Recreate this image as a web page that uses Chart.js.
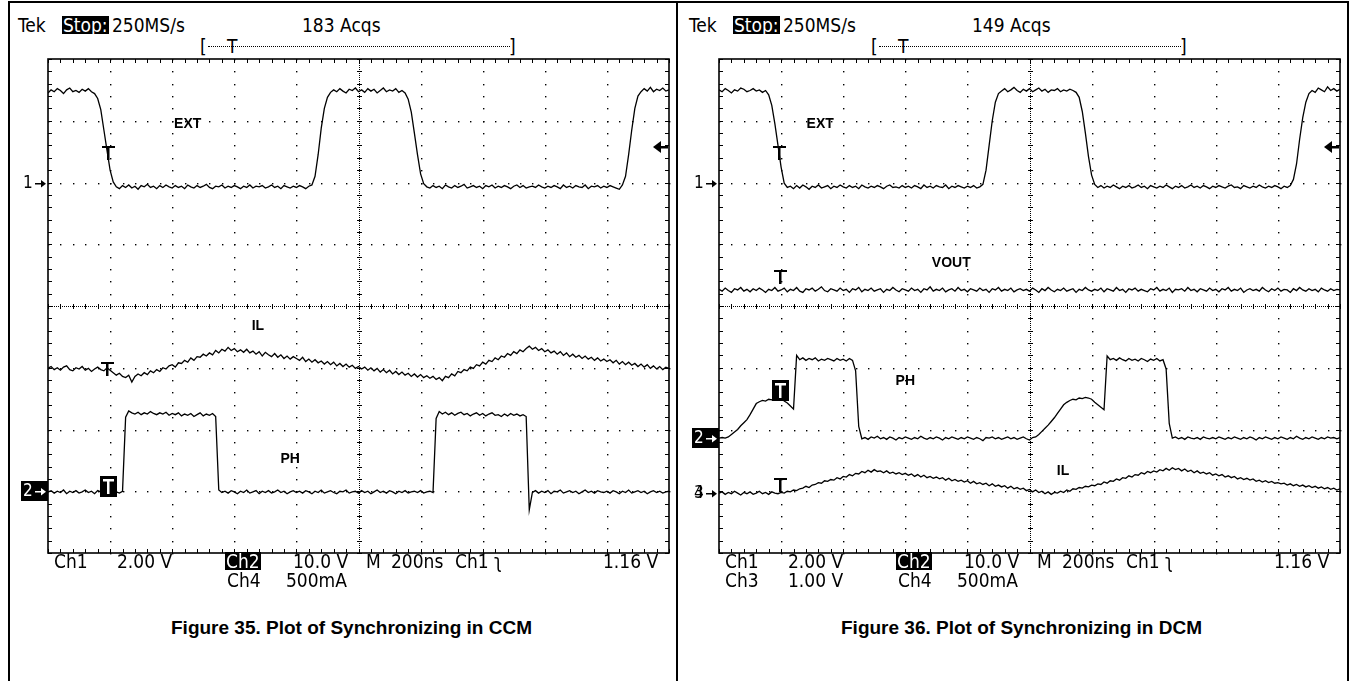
<!DOCTYPE html>
<html>
<head>
<meta charset="utf-8">
<script src="https://cdn.jsdelivr.net/npm/chart.js@4.4.0/dist/chart.umd.min.js"></script>
<style>
  html, body { margin: 0; padding: 0; background: #fff; }
  body { width: 1351px; height: 681px; position: relative; overflow: hidden; }
  .rule { position: absolute; background: #000; }
  .t { position: absolute; font-family: "DejaVu Sans Condensed", "DejaVu Sans", sans-serif; font-size: 19px; line-height: 20px; white-space: pre; color: #000; }
  .inv { background: #000; color: #fff; line-height: 18px; height: 18px; padding: 0 1px; }
  .rec { position: absolute; border-top: 1px dotted #000; height: 0; }
  .cap { position: absolute; font-family: "Liberation Sans", Arial, sans-serif; font-weight: bold; font-size: 19px; line-height: 22px; white-space: nowrap; }
  canvas { position: absolute; }
</style>
</head>
<body>
<!-- page frame -->
<div class="rule" style="left:8px;top:1px;width:1341px;height:2px"></div>
<div class="rule" style="left:8px;top:1px;width:2px;height:680px"></div>
<div class="rule" style="left:676px;top:1px;width:2px;height:680px"></div>
<div class="rule" style="left:1347px;top:1px;width:2px;height:680px"></div>

<!-- Figure 35 -->
<div class="t" style="left:18px;top:15px">Tek</div>
<div class="t inv" style="left:62px;top:16px">Stop:</div>
<div class="t" style="left:112px;top:15px">250MS/s</div>
<div class="t" style="left:302px;top:15px">183 Acqs</div>
<div class="t" style="left:200px;top:36px">[</div>
<div class="rec" style="left:208px;top:46px;width:302px"></div>
<div class="t" style="left:227px;top:36px">T</div>
<div class="t" style="left:509px;top:36px">]</div>
<canvas id="ccm" width="668" height="512" style="left:8px;top:48px"></canvas>
<div class="t" style="left:54px;top:551px">Ch1</div>
<div class="t" style="left:117px;top:551px">2.00 V</div>
<div class="t inv" style="left:225px;top:552px">Ch2</div>
<div class="t" style="left:293px;top:551px">10.0 V</div>
<div class="t" style="left:366px;top:551px">M</div>
<div class="t" style="left:391px;top:551px">200ns</div>
<div class="t" style="left:455px;top:551px">Ch1</div>
<div class="t" style="left:494px;top:551px">ʅ</div>
<div class="t" style="left:603px;top:551px">1.16 V</div>
<div class="t" style="left:227px;top:570px">Ch4</div>
<div class="t" style="left:286px;top:570px">500mA</div>
<div class="cap" style="left:171px;top:617px">Figure 35. Plot of Synchronizing in CCM</div>

<!-- Figure 36 -->
<div class="t" style="left:689px;top:15px">Tek</div>
<div class="t inv" style="left:733px;top:16px">Stop:</div>
<div class="t" style="left:783px;top:15px">250MS/s</div>
<div class="t" style="left:972px;top:15px">149 Acqs</div>
<div class="t" style="left:871px;top:36px">[</div>
<div class="rec" style="left:879px;top:46px;width:302px"></div>
<div class="t" style="left:898px;top:36px">T</div>
<div class="t" style="left:1180px;top:36px">]</div>
<canvas id="dcm" width="668" height="512" style="left:679px;top:48px"></canvas>
<div class="t" style="left:725px;top:551px">Ch1</div>
<div class="t" style="left:788px;top:551px">2.00 V</div>
<div class="t inv" style="left:896px;top:552px">Ch2</div>
<div class="t" style="left:964px;top:551px">10.0 V</div>
<div class="t" style="left:1037px;top:551px">M</div>
<div class="t" style="left:1062px;top:551px">200ns</div>
<div class="t" style="left:1126px;top:551px">Ch1</div>
<div class="t" style="left:1165px;top:551px">ʅ</div>
<div class="t" style="left:1274px;top:551px">1.16 V</div>
<div class="t" style="left:725px;top:570px">Ch3</div>
<div class="t" style="left:788px;top:570px">1.00 V</div>
<div class="t" style="left:898px;top:570px">Ch4</div>
<div class="t" style="left:957px;top:570px">500mA</div>
<div class="cap" style="left:841px;top:617px">Figure 36. Plot of Synchronizing in DCM</div>

<script>
// screen is 10 x 8 divisions, 200 ns/div, one sample every 0.05 div (10 ns)
// all trace values below are in graticule divisions (0 = bottom line)
const sampleTimes = Array.from({ length: 201 }, (_, i) => +(i * 0.05).toFixed(2));

// Figure 35 - CCM
const extCcm = [
  7.45, 7.50, 7.47, 7.52, 7.49, 7.44, 7.50, 7.53, 7.47, 7.49, 7.46, 7.51, 7.48, 7.52, 7.47, 7.44, 7.36, 7.18, 6.85, 6.52,
  6.20, 6.01, 5.93, 5.90, 5.95, 5.92, 5.96, 5.91, 5.94, 5.89, 5.95, 5.93, 5.97, 5.92, 5.94, 5.90, 5.95, 5.92, 5.96, 5.93,
  5.91, 5.95, 5.92, 5.94, 5.90, 5.96, 5.93, 5.91, 5.95, 5.92, 5.94, 5.97, 5.92, 5.90, 5.94, 5.93, 5.96, 5.91, 5.94, 5.92,
  5.95, 5.93, 5.90, 5.94, 5.92, 5.96, 5.91, 5.94, 5.93, 5.95, 5.91, 5.93, 5.96, 5.92, 5.94, 5.90, 5.95, 5.93, 5.91, 5.94,
  5.92, 5.95, 5.93, 5.90, 5.94, 5.96, 6.10, 6.45, 6.88, 7.20, 7.38, 7.46, 7.50, 7.47, 7.52, 7.48, 7.45, 7.51, 7.49, 7.53,
  7.47, 7.50, 7.46, 7.52, 7.48, 7.51, 7.45, 7.49, 7.53, 7.47, 7.50, 7.48, 7.52, 7.46, 7.49, 7.45, 7.35, 7.14, 6.80, 6.45,
  6.14, 5.98, 5.93, 5.91, 5.95, 5.92, 5.94, 5.90, 5.96, 5.93, 5.91, 5.95, 5.92, 5.94, 5.97, 5.91, 5.93, 5.95, 5.92, 5.94,
  5.90, 5.95, 5.93, 5.96, 5.91, 5.94, 5.92, 5.95, 5.93, 5.90, 5.94, 5.96, 5.92, 5.95, 5.91, 5.93, 5.94, 5.92, 5.96, 5.93,
  5.91, 5.94, 5.92, 5.95, 5.93, 5.90, 5.96, 5.92, 5.94, 5.91, 5.95, 5.93, 5.92, 5.96, 5.90, 5.94, 5.93, 5.95, 5.91, 5.94,
  5.92, 5.95, 5.93, 5.91, 5.89, 5.96, 6.10, 6.45, 6.85, 7.20, 7.40, 7.47, 7.52, 7.48, 7.54, 7.47, 7.51, 7.49, 7.53, 7.48,
  7.50
];
const ilCcm = [
  2.99, 3.02, 2.97, 3.00, 2.96, 3.01, 3.03, 2.97, 2.95, 3.00, 2.98, 3.02, 2.96, 2.99, 2.94, 2.98, 3.01, 2.97, 2.95, 3.00,
  2.96, 2.92, 2.88, 2.91, 2.86, 2.84, 2.88, 2.77, 2.86, 2.90, 2.87, 2.92, 2.89, 2.95, 2.92, 2.97, 2.94, 3.00, 2.98, 3.03,
  3.05, 3.01, 3.08, 3.07, 3.12, 3.09, 3.16, 3.12, 3.18, 3.17, 3.22, 3.19, 3.24, 3.21, 3.28, 3.24, 3.30, 3.27, 3.33, 3.28,
  3.31, 3.26, 3.29, 3.25, 3.30, 3.24, 3.27, 3.22, 3.26, 3.19, 3.25, 3.21, 3.18, 3.23, 3.17, 3.21, 3.15, 3.19, 3.14, 3.18,
  3.15, 3.12, 3.17, 3.10, 3.14, 3.09, 3.13, 3.08, 3.11, 3.06, 3.10, 3.05, 3.09, 3.03, 3.07, 3.02, 3.06, 3.01, 3.04, 2.99,
  3.02, 2.98, 3.01, 2.96, 3.00, 2.95, 2.99, 2.93, 2.97, 2.92, 2.96, 2.90, 2.94, 2.89, 2.93, 2.88, 2.91, 2.86, 2.90, 2.85,
  2.89, 2.84, 2.87, 2.83, 2.86, 2.81, 2.84, 2.79, 2.86, 2.84, 2.90, 2.87, 2.94, 2.92, 2.97, 2.95, 3.01, 2.99, 3.05, 3.03,
  3.09, 3.06, 3.12, 3.10, 3.16, 3.13, 3.19, 3.17, 3.23, 3.20, 3.26, 3.23, 3.29, 3.26, 3.31, 3.35, 3.30, 3.33, 3.28, 3.31,
  3.26, 3.29, 3.24, 3.27, 3.22, 3.26, 3.20, 3.24, 3.18, 3.22, 3.17, 3.20, 3.15, 3.19, 3.14, 3.17, 3.12, 3.16, 3.11, 3.14,
  3.10, 3.13, 3.08, 3.12, 3.06, 3.10, 3.05, 3.09, 3.04, 3.07, 3.02, 3.06, 3.01, 3.05, 2.99, 3.03, 2.98, 3.02, 2.97, 3.01,
  2.99
];
const phCcm = [
  0.99, 1.01, 0.97, 1.00, 0.98, 1.02, 0.96, 1.00, 0.98, 1.01, 0.97, 0.99, 1.02, 0.98, 1.00, 0.96, 1.01, 0.99, 0.97, 1.00,
  0.98, 1.01, 0.99, 0.97, 1.00, 2.20, 2.30, 2.27, 2.25, 2.28, 2.24, 2.27, 2.25, 2.29, 2.26, 2.24, 2.27, 2.25, 2.28, 2.23,
  2.26, 2.24, 2.27, 2.22, 2.25, 2.23, 2.26, 2.21, 2.24, 2.27, 2.22, 2.25, 2.23, 2.26, 2.21, 1.02, 0.98, 1.00, 0.97, 1.01,
  0.99, 0.96, 1.00, 0.98, 1.02, 0.97, 0.99, 1.01, 0.96, 1.00, 0.98, 1.01, 0.97, 0.99, 1.02, 0.98, 1.00, 0.96, 0.99, 1.01,
  0.98, 1.00, 0.97, 1.01, 0.99, 0.96, 1.00, 0.98, 1.02, 0.97, 0.99, 1.01, 0.98, 0.96, 1.00, 0.99, 1.02, 0.97, 0.99, 1.00,
  0.97, 1.01, 0.98, 1.00, 0.96, 0.99, 1.02, 0.98, 1.00, 0.97, 1.01, 0.99, 0.96, 1.00, 0.98, 1.01, 0.97, 0.99, 1.00, 0.98,
  1.01, 0.97, 0.99, 1.00, 0.98, 2.18, 2.29, 2.25, 2.28, 2.24, 2.27, 2.23, 2.26, 2.28, 2.24, 2.26, 2.22, 2.25, 2.27, 2.23,
  2.26, 2.22, 2.25, 2.27, 2.23, 2.24, 2.21, 2.25, 2.22, 2.26, 2.23, 2.25, 2.22, 2.24, 2.21, 0.70, 0.98, 1.01, 0.97, 1.00,
  0.98, 1.01, 0.96, 1.00, 0.99, 1.02, 0.97, 0.99, 1.01, 0.98, 1.00, 0.96, 0.99, 1.02, 0.98, 1.00, 0.97, 1.01, 0.99, 0.98,
  1.00, 0.97, 1.01, 0.99, 0.96, 1.00, 0.98, 1.02, 0.97, 0.99, 1.01, 0.98, 1.00, 0.96, 0.99, 1.01, 0.98, 1.00, 0.97, 0.99,
  1.00
];

// Figure 36 - DCM
const extDcm = [
  7.50, 7.47, 7.52, 7.49, 7.45, 7.50, 7.48, 7.53, 7.51, 7.47, 7.49, 7.52, 7.48, 7.50, 7.46, 7.49, 7.42, 7.25, 6.95, 6.60,
  6.25, 5.99, 5.92, 5.94, 5.90, 5.95, 5.91, 5.96, 5.93, 5.89, 5.94, 5.92, 5.96, 5.91, 5.93, 5.95, 5.90, 5.94, 5.92, 5.96,
  5.93, 5.91, 5.95, 5.92, 5.94, 5.90, 5.96, 5.93, 5.91, 5.94, 5.92, 5.95, 5.93, 5.90, 5.94, 5.96, 5.92, 5.93, 5.91, 5.95,
  5.92, 5.94, 5.91, 5.95, 5.93, 5.90, 5.96, 5.92, 5.94, 5.91, 5.95, 5.93, 5.92, 5.96, 5.90, 5.94, 5.92, 5.95, 5.93, 5.91,
  5.94, 5.92, 5.95, 5.91, 5.93, 5.97, 6.20, 6.60, 7.00, 7.30, 7.44, 7.48, 7.52, 7.47, 7.50, 7.54, 7.49, 7.46, 7.51, 7.48,
  7.52, 7.47, 7.50, 7.53, 7.48, 7.51, 7.46, 7.50, 7.49, 7.52, 7.47, 7.50, 7.48, 7.51, 7.49, 7.46, 7.38, 7.15, 6.80, 6.42,
  6.12, 5.97, 5.92, 5.95, 5.91, 5.94, 5.92, 5.96, 5.93, 5.90, 5.94, 5.92, 5.95, 5.91, 5.93, 5.96, 5.92, 5.94, 5.90, 5.95,
  5.93, 5.91, 5.94, 5.92, 5.96, 5.93, 5.90, 5.94, 5.92, 5.95, 5.91, 5.93, 5.96, 5.92, 5.94, 5.91, 5.95, 5.93, 5.90, 5.94,
  5.92, 5.95, 5.93, 5.91, 5.94, 5.96, 5.92, 5.93, 5.90, 5.95, 5.93, 5.91, 5.94, 5.92, 5.96, 5.93, 5.91, 5.94, 5.92, 5.95,
  5.93, 5.90, 5.94, 5.92, 5.95, 6.05, 6.30, 6.70, 7.05, 7.30, 7.44, 7.49, 7.46, 7.53, 7.50, 7.47, 7.55, 7.49, 7.52, 7.48,
  7.51
];
const voutDcm = [
  4.27, 4.24, 4.29, 4.25, 4.22, 4.28, 4.26, 4.30, 4.24, 4.27, 4.23, 4.28, 4.25, 4.29, 4.26, 4.22, 4.27, 4.25, 4.30, 4.24,
  4.26, 4.29, 4.23, 4.27, 4.25, 4.30, 4.24, 4.22, 4.28, 4.26, 4.29, 4.24, 4.27, 4.31, 4.25, 4.23, 4.28, 4.26, 4.24, 4.29,
  4.25, 4.27, 4.22, 4.28, 4.26, 4.30, 4.23, 4.27, 4.25, 4.29, 4.24, 4.26, 4.28, 4.22, 4.27, 4.25, 4.30, 4.26, 4.23, 4.28,
  4.26, 4.24, 4.29, 4.25, 4.27, 4.22, 4.28, 4.26, 4.31, 4.24, 4.27, 4.25, 4.29, 4.23, 4.26, 4.28, 4.24, 4.30, 4.25, 4.27,
  4.23, 4.28, 4.26, 4.24, 4.29, 4.25, 4.27, 4.22, 4.28, 4.26, 4.30, 4.24, 4.27, 4.25, 4.29, 4.23, 4.26, 4.28, 4.25, 4.27,
  4.24, 4.29, 4.26, 4.22, 4.28, 4.25, 4.30, 4.26, 4.23, 4.27, 4.25, 4.29, 4.24, 4.26, 4.28, 4.22, 4.27, 4.25, 4.30, 4.26,
  4.24, 4.27, 4.25, 4.29, 4.23, 4.28, 4.26, 4.24, 4.30, 4.25, 4.27, 4.22, 4.28, 4.26, 4.29, 4.24, 4.27, 4.25, 4.23, 4.28,
  4.26, 4.30, 4.24, 4.27, 4.25, 4.29, 4.22, 4.27, 4.26, 4.28, 4.24, 4.30, 4.25, 4.27, 4.23, 4.28, 4.26, 4.24, 4.29, 4.25,
  4.27, 4.23, 4.28, 4.26, 4.30, 4.24, 4.27, 4.25, 4.29, 4.22, 4.26, 4.28, 4.25, 4.27, 4.24, 4.30, 4.26, 4.23, 4.28, 4.25,
  4.29, 4.24, 4.27, 4.26, 4.22, 4.28, 4.25, 4.30, 4.26, 4.24, 4.28, 4.25, 4.27, 4.23, 4.29, 4.26, 4.24, 4.28, 4.25, 4.27,
  4.26
];
const phDcm = [
  1.86, 1.87, 1.86, 1.88, 1.92, 1.96, 2.00, 2.06, 2.11, 2.16, 2.24, 2.33, 2.42, 2.45, 2.47, 2.46, 2.49, 2.48, 2.51, 2.50,
  2.52, 2.46, 2.43, 2.38, 2.33, 3.20, 3.13, 3.16, 3.12, 3.15, 3.13, 3.16, 3.11, 3.14, 3.12, 3.15, 3.13, 3.11, 3.15, 3.12,
  3.14, 3.11, 3.15, 3.12, 2.95, 2.05, 1.85, 1.87, 1.84, 1.88, 1.86, 1.89, 1.85, 1.87, 1.84, 1.88, 1.86, 1.83, 1.87, 1.85,
  1.88, 1.86, 1.84, 1.87, 1.85, 1.89, 1.86, 1.84, 1.87, 1.85, 1.88, 1.86, 1.83, 1.87, 1.85, 1.88, 1.86, 1.84, 1.87, 1.85,
  1.88, 1.86, 1.84, 1.87, 1.85, 1.82, 1.87, 1.86, 1.88, 1.85, 1.87, 1.84, 1.86, 1.88, 1.85, 1.87, 1.84, 1.86, 1.88, 1.85,
  1.83, 1.87, 1.88, 1.92, 1.97, 2.02, 2.07, 2.13, 2.19, 2.26, 2.33, 2.40, 2.44, 2.47, 2.49, 2.48, 2.51, 2.50, 2.52, 2.51,
  2.49, 2.44, 2.40, 2.36, 2.32, 3.19, 3.13, 3.15, 3.12, 3.16, 3.13, 3.11, 3.15, 3.12, 3.14, 3.11, 3.15, 3.13, 3.10, 3.14,
  3.12, 3.15, 3.11, 3.13, 2.98, 2.10, 1.86, 1.88, 1.85, 1.87, 1.84, 1.88, 1.86, 1.85, 1.87, 1.84, 1.88, 1.86, 1.85, 1.87,
  1.85, 1.88, 1.86, 1.84, 1.87, 1.85, 1.88, 1.86, 1.84, 1.87, 1.85, 1.88, 1.86, 1.83, 1.87, 1.85, 1.88, 1.86, 1.84, 1.87,
  1.85, 1.88, 1.86, 1.84, 1.87, 1.85, 1.89, 1.86, 1.84, 1.87, 1.85, 1.88, 1.86, 1.84, 1.87, 1.85, 1.88, 1.86, 1.87, 1.85,
  1.87
];
const ilDcm = [
  0.97, 0.99, 0.95, 0.98, 0.96, 1.00, 0.97, 0.94, 0.98, 0.96, 0.99, 0.95, 0.97, 1.00, 0.96, 0.98, 0.95, 0.99, 0.97, 0.96,
  0.98, 0.97, 1.00, 0.99, 1.02, 1.01, 1.04, 1.05, 1.08, 1.06, 1.10, 1.11, 1.14, 1.13, 1.17, 1.16, 1.19, 1.18, 1.22, 1.20,
  1.24, 1.23, 1.27, 1.25, 1.29, 1.28, 1.32, 1.30, 1.34, 1.31, 1.35, 1.32, 1.33, 1.30, 1.33, 1.29, 1.31, 1.28, 1.30, 1.27,
  1.29, 1.26, 1.28, 1.24, 1.27, 1.23, 1.26, 1.22, 1.24, 1.21, 1.23, 1.20, 1.22, 1.18, 1.21, 1.17, 1.19, 1.16, 1.18, 1.15,
  1.17, 1.13, 1.16, 1.12, 1.14, 1.11, 1.13, 1.09, 1.12, 1.08, 1.10, 1.07, 1.09, 1.05, 1.08, 1.04, 1.06, 1.03, 1.05, 1.01,
  1.03, 0.99, 1.02, 0.98, 1.00, 0.96, 0.99, 0.95, 0.98, 0.97, 1.00, 0.98, 1.02, 1.00, 1.04, 1.03, 1.06, 1.05, 1.08, 1.07,
  1.10, 1.09, 1.12, 1.11, 1.15, 1.13, 1.17, 1.16, 1.20, 1.18, 1.22, 1.21, 1.25, 1.23, 1.27, 1.26, 1.30, 1.28, 1.32, 1.30,
  1.33, 1.31, 1.35, 1.33, 1.37, 1.34, 1.38, 1.35, 1.37, 1.33, 1.36, 1.32, 1.34, 1.30, 1.33, 1.29, 1.31, 1.28, 1.30, 1.26,
  1.28, 1.25, 1.27, 1.23, 1.25, 1.22, 1.24, 1.20, 1.22, 1.19, 1.21, 1.18, 1.20, 1.16, 1.18, 1.15, 1.17, 1.14, 1.16, 1.13,
  1.14, 1.12, 1.13, 1.10, 1.12, 1.09, 1.11, 1.08, 1.10, 1.07, 1.09, 1.06, 1.08, 1.05, 1.07, 1.04, 1.06, 1.03, 1.05, 1.02,
  1.04
];

// on-screen annotations, in divisions
const ccmNames = [{ text: 'EXT', t: 2.25, lvl: 6.96 }, { text: 'IL', t: 3.38, lvl: 3.69 }, { text: 'PH', t: 3.9, lvl: 1.54 }];
const dcmNames = [{ text: 'EXT', t: 1.63, lvl: 6.96 }, { text: 'VOUT', t: 3.74, lvl: 4.71 }, { text: 'PH', t: 3.0, lvl: 2.8 }, { text: 'IL', t: 5.54, lvl: 1.34 }];
const ccmGrounds = [{ text: '1', lvl: 6 }, { text: '2', lvl: 1, inv: true }];
const dcmGrounds = [{ text: '1', lvl: 6 }, { text: '2', lvl: 1.86, inv: true }, { text: '4', over: '3', lvl: 0.97 }];
const trigLevel = 6.58;
const ccmTrig = [{ t: 0.97, lvl: 6.59 }, { t: 0.95, lvl: 3.09 }, { t: 0.97, lvl: 1.25, inv: true }];
const dcmTrig = [{ t: 0.97, lvl: 6.59 }, { t: 0.98, lvl: 4.58 }, { t: 0.98, lvl: 2.8, inv: true }, { t: 0.98, lvl: 1.21 }];

const scopeFont = '"DejaVu Sans Condensed", "DejaVu Sans", sans-serif';

// tektronix style graticule: dotted divisions, ticked centre cross, ticked frame
const graticule = {
  id: 'graticule',
  beforeDatasetsDraw(chart) {
    const { ctx, chartArea: a, scales: { x, y } } = chart;
    const xs = [], ys = [];
    for (let k = 0; k <= 50; k++) xs.push(x.getPixelForValue(k * 0.2));
    for (let k = 0; k <= 40; k++) ys.push(y.getPixelForValue(k * 0.2));
    ctx.save();
    ctx.fillStyle = '#000';
    for (let i = 1; i < 10; i++) {
      if (i === 5) continue;
      const px = Math.round(x.getPixelForValue(i));
      ys.forEach(py => ctx.fillRect(px, Math.round(py), 1.4, 1.4));
    }
    for (let j = 1; j < 8; j++) {
      if (j === 4) continue;
      const py = Math.round(y.getPixelForValue(j));
      xs.forEach(px => ctx.fillRect(Math.round(px), py, 1.4, 1.4));
    }
    // centre cross
    const cx = Math.round(x.getPixelForValue(5));
    const cy = Math.round(y.getPixelForValue(4));
    for (let p = a.top; p < a.bottom; p += 2) ctx.fillRect(cx, p, 1, 1);
    for (let p = a.left; p < a.right; p += 2) ctx.fillRect(p, cy, 1, 1);
    ys.forEach(py => ctx.fillRect(cx - 2, Math.round(py), 5, 1));
    xs.forEach(px => ctx.fillRect(Math.round(px), cy - 2, 1, 5));
    // frame ticks
    xs.forEach(px => {
      ctx.fillRect(Math.round(px), a.top, 1, 4);
      ctx.fillRect(Math.round(px), a.bottom - 4, 1, 4);
    });
    ys.forEach(py => {
      ctx.fillRect(a.left, Math.round(py), 4, 1);
      ctx.fillRect(a.right - 4, Math.round(py), 4, 1);
    });
    ctx.lineWidth = 1.6;
    ctx.strokeStyle = '#000';
    ctx.strokeRect(a.left, a.top, a.right - a.left, a.bottom - a.top);
    ctx.restore();
  }
};

function scopeMarks(names, grounds, trig) {
  return {
    id: 'scopeMarks',
    afterDatasetsDraw(chart) {
      const { ctx, chartArea: a, scales: { x, y } } = chart;
      ctx.save();
      ctx.textBaseline = 'middle';
      // waveform names
      ctx.font = 'bold 14px "Liberation Sans", Arial, sans-serif';
      ctx.textAlign = 'center';
      names.forEach(n => {
        const px = x.getPixelForValue(n.t), py = y.getPixelForValue(n.lvl);
        ctx.fillStyle = '#000';
        ctx.fillText(n.text, px, py + 1);
      });
      // channel ground markers left of the screen
      ctx.font = '17px ' + scopeFont;
      ctx.textAlign = 'left';
      grounds.forEach(g => {
        const py = Math.round(y.getPixelForValue(g.lvl));
        const x0 = a.left - 25;
        if (g.inv) {
          ctx.fillStyle = '#000';
          ctx.fillRect(x0 - 2, py - 10, 27, 20);
          ctx.fillStyle = '#fff';
        } else {
          ctx.fillStyle = '#000';
        }
        ctx.fillText(g.text, x0, py + 1);
        if (g.over) ctx.fillText(g.over, x0, py + 1);
        ctx.fillRect(x0 + 12, py, 9, 1.5);
        ctx.beginPath();
        ctx.moveTo(x0 + 23, py + 0.75);
        ctx.lineTo(x0 + 18, py - 3);
        ctx.lineTo(x0 + 18, py + 4.5);
        ctx.closePath();
        ctx.fill();
      });
      // trigger level arrow on the right edge
      const ty = Math.round(y.getPixelForValue(trigLevel));
      ctx.fillStyle = '#000';
      ctx.beginPath();
      ctx.moveTo(a.right - 16, ty);
      ctx.lineTo(a.right - 8, ty - 6);
      ctx.lineTo(a.right - 8, ty + 6);
      ctx.closePath();
      ctx.fill();
      ctx.fillRect(a.right - 9, ty - 1, 8, 2.5);
      // trigger point markers
      trig.forEach(m => {
        const px = Math.round(x.getPixelForValue(m.t)), py = Math.round(y.getPixelForValue(m.lvl));
        if (m.inv) {
          ctx.fillStyle = '#000';
          ctx.fillRect(px - 8, py, 17, 21);
          ctx.fillStyle = '#fff';
          ctx.fillRect(px - 5, py + 3, 11, 2.5);
          ctx.fillRect(px - 1, py + 3, 2.5, 15);
        } else {
          ctx.fillStyle = '#000';
          ctx.fillRect(px - 6, py, 13, 2);
          ctx.fillRect(px - 1, py, 2.5, 14);
        }
      });
      ctx.restore();
    }
  };
}

function scopeChart(id, traces, marks) {
  return new Chart(document.getElementById(id), {
    type: 'line',
    data: {
      datasets: traces.map(values => ({
        data: values.map((v, i) => ({ x: sampleTimes[i], y: v })),
        borderColor: '#000',
        borderWidth: 1.3,
        pointRadius: 0,
        tension: 0
      }))
    },
    options: {
      responsive: false,
      animation: false,
      devicePixelRatio: 1,
      layout: { padding: { left: 40, right: 7, top: 11, bottom: 7 } },
      plugins: { legend: { display: false }, tooltip: { enabled: false } },
      scales: {
        x: { type: 'linear', min: 0, max: 10, display: false },
        y: { type: 'linear', min: 0, max: 8, display: false }
      }
    },
    plugins: [graticule, marks]
  });
}

scopeChart('ccm', [extCcm, ilCcm, phCcm], scopeMarks(ccmNames, ccmGrounds, ccmTrig));
scopeChart('dcm', [extDcm, voutDcm, phDcm, ilDcm], scopeMarks(dcmNames, dcmGrounds, dcmTrig));
</script>
</body>
</html>
